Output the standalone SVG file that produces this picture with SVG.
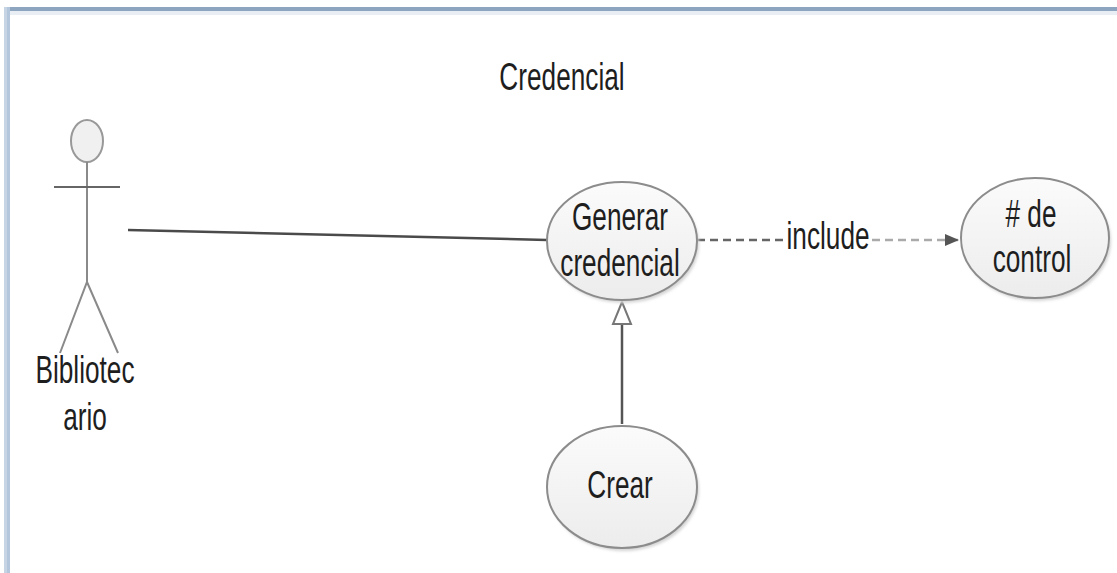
<svg xmlns="http://www.w3.org/2000/svg" width="1117" height="573" viewBox="0 0 1117 573">
  <style>
    .lbl { font-family: "Liberation Sans", Arial, sans-serif; font-size: 38px; fill: #1e1e1e; text-anchor: middle; }
    .uc { fill: url(#ucFill); stroke: #8c8c8c; stroke-width: 2; }
    .shadow { fill: #d4d4d4; filter: url(#soft); }
    .stick { stroke: #8a8a8a; stroke-width: 2; fill: none; }
  </style>
  <defs>
    <linearGradient id="ucFill" x1="0" y1="0" x2="0" y2="1">
      <stop offset="0" stop-color="#fbfbfb"/>
      <stop offset="1" stop-color="#ececec"/>
    </linearGradient>
    <filter id="soft" x="-10%" y="-10%" width="120%" height="120%">
      <feGaussianBlur stdDeviation="1.5"/>
    </filter>
    <marker id="filledArrow" viewBox="0 0 14 14" refX="14" refY="7" markerWidth="14" markerHeight="14" markerUnits="userSpaceOnUse" orient="auto">
      <path d="M0,1 L14,7 L0,13 Z" fill="#555"/>
    </marker>
  </defs>

  <!-- canvas and frame -->
  <rect x="0" y="0" width="1117" height="573" fill="#ffffff"/>
  <rect x="4" y="7" width="1113" height="4" fill="#8ea5bf"/>
  <rect x="10" y="11" width="1107" height="4" fill="#e9eef5"/>
  <rect x="4" y="7" width="3" height="566" fill="#c6d4e4"/>
  <rect x="7" y="7" width="3" height="566" fill="#b3c6dc"/>

  <!-- diagram title -->
  <text class="lbl" transform="translate(562,90) scale(0.69,1)">Credencial</text>

  <!-- connectors -->
  <g id="connectors">
    <!-- association: actor to Generar credencial -->
    <line x1="128" y1="230" x2="547" y2="240" stroke="#4a4a4a" stroke-width="2.5"/>
    <!-- include dependency -->
    <line x1="697" y1="240" x2="784" y2="240" stroke="#666" stroke-width="2.5" stroke-dasharray="8,5"/>
    <line x1="872" y1="240" x2="959" y2="240" stroke="#aaa" stroke-width="2.5" stroke-dasharray="8,5" marker-end="url(#filledArrow)"/>
    <text class="lbl" transform="translate(828,249) scale(0.69,1)">include</text>
    <!-- generalization: Crear to Generar credencial -->
    <line x1="622" y1="424" x2="622" y2="324" stroke="#555" stroke-width="2.5"/>
    <path d="M622,302 L631,324 L613,324 Z" fill="#ffffff" stroke="#777" stroke-width="2"/>
  </g>

  <!-- actor -->
  <g id="actor-bibliotecario">
    <ellipse cx="87" cy="141" rx="16" ry="21" fill="#f0f0f0" stroke="#999" stroke-width="2"/>
    <line class="stick" x1="87" y1="162" x2="87" y2="282"/>
    <line x1="54" y1="187" x2="120" y2="187" stroke="#666" stroke-width="2"/>
    <polyline class="stick" points="60,353 87,282 118,353"/>
    <text class="lbl" transform="translate(85,383) scale(0.69,1)">Bibliotec</text>
    <text class="lbl" transform="translate(85,430) scale(0.69,1)">ario</text>
  </g>

  <!-- use case: Generar credencial -->
  <g id="uc-generar">
    <ellipse class="shadow" cx="624" cy="244" rx="75" ry="59"/>
    <ellipse class="uc" cx="622" cy="241" rx="75" ry="59"/>
    <text class="lbl" transform="translate(620,230) scale(0.69,1)">Generar</text>
    <text class="lbl" transform="translate(620,276) scale(0.69,1)">credencial</text>
  </g>

  <!-- use case: # de control -->
  <g id="uc-control">
    <ellipse class="shadow" cx="1037" cy="241" rx="74" ry="60"/>
    <ellipse class="uc" cx="1035" cy="238" rx="74" ry="60"/>
    <text class="lbl" transform="translate(1031,227) scale(0.69,1)"># de</text>
    <text class="lbl" transform="translate(1032,272) scale(0.69,1)">control</text>
  </g>

  <!-- use case: Crear -->
  <g id="uc-crear">
    <ellipse class="shadow" cx="624" cy="490" rx="75" ry="61"/>
    <ellipse class="uc" cx="622" cy="487" rx="75" ry="61"/>
    <text class="lbl" transform="translate(620,498) scale(0.69,1)">Crear</text>
  </g>
</svg>
